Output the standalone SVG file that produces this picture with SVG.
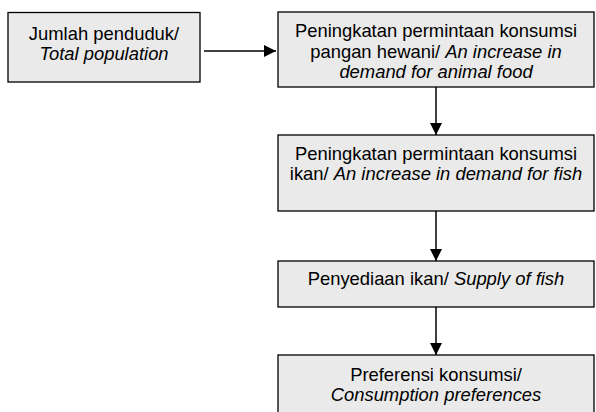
<svg xmlns="http://www.w3.org/2000/svg" width="596" height="412" viewBox="0 0 596 412">
<style>
.box{fill:#eaeaea;stroke:#000;stroke-width:1.3}
.t{font-family:"Liberation Sans",Arial,sans-serif;font-size:18.4px;fill:#000;text-anchor:middle}
.i{font-style:italic}
.c{stroke:#000;stroke-width:1.5;fill:none}
</style>
<defs>
<marker id="arr" markerUnits="userSpaceOnUse" markerWidth="13" markerHeight="12" refX="12" refY="6" orient="auto">
<path d="M0,0 L12,6 L0,12 Z" fill="#000"/>
</marker>
</defs>
<rect width="596" height="412" fill="#fff"/>
<g id="connectors">
<line class="c" x1="204" y1="51" x2="276" y2="51" marker-end="url(#arr)"/>
<line class="c" x1="436" y1="87" x2="436" y2="135" marker-end="url(#arr)"/>
<line class="c" x1="436" y1="211" x2="436" y2="261" marker-end="url(#arr)"/>
<line class="c" x1="436" y1="307" x2="436" y2="355" marker-end="url(#arr)"/>
</g>
<g id="n1">
<rect class="box" x="8" y="12.5" width="192" height="69.5"/>
<text class="t" x="104" y="40">Jumlah penduduk/</text>
<text class="t i" x="104" y="59.5">Total population</text>
</g>
<g id="n2">
<rect class="box" x="278" y="12" width="316" height="75"/>
<text class="t" x="436" y="37">Peningkatan permintaan konsumsi</text>
<text class="t" x="436" y="57.5">pangan hewani/ <tspan class="i">An increase in</tspan></text>
<text class="t i" x="436" y="78">demand for animal food</text>
</g>
<g id="n3">
<rect class="box" x="278" y="135" width="316" height="76"/>
<text class="t" x="436" y="160">Peningkatan permintaan konsumsi</text>
<text class="t" x="436" y="180">ikan/ <tspan class="i">An increase in demand for fish</tspan></text>
</g>
<g id="n4">
<rect class="box" x="278" y="261" width="316" height="46"/>
<text class="t" x="436" y="285">Penyediaan ikan/ <tspan class="i">Supply of fish</tspan></text>
</g>
<g id="n5">
<rect class="box" x="278" y="355" width="316" height="70"/>
<text class="t" x="436" y="380.7">Preferensi konsumsi/</text>
<text class="t i" x="436" y="400.7">Consumption preferences</text>
</g>
</svg>
